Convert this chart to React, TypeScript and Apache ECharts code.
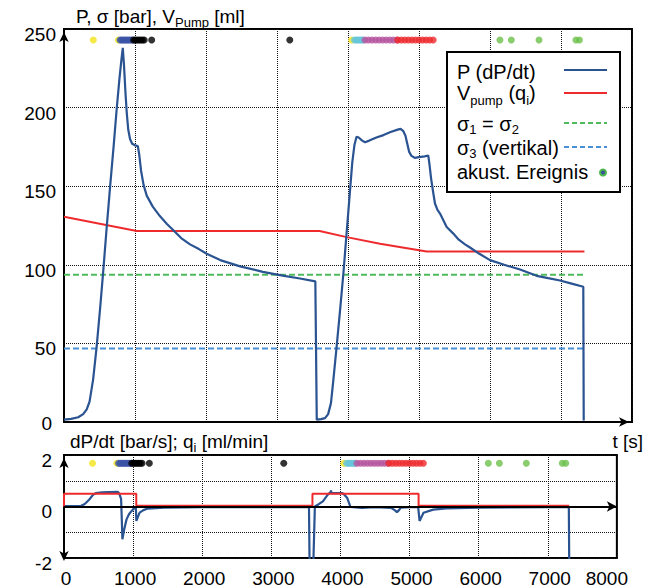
import React, { useEffect, useRef } from 'react';
import * as echarts from 'echarts';

// ---------- DATA ----------
// time axis ticks [s]
const timeMin = 0;
const timeMax = 8000;
const timeStep = 1000;

// P [bar] over t [s]
const pressure: [number, number][] = [
  [0, 1.5], [100, 2], [200, 3], [270, 5], [320, 8], [360, 13], [410, 27], [460, 48], [510, 73],
  [550, 94.5], [600, 123], [650, 150], [700, 176], [740, 198], [780, 218], [810, 231], [828, 238],
  [845, 227], [865, 210], [885, 196], [905, 186], [930, 180], [960, 177], [1000, 176], [1040, 175.5],
  [1060, 170], [1085, 160], [1120, 151], [1165, 144], [1250, 137], [1350, 131], [1450, 126], [1540, 122],
  [1650, 117], [1775, 113], [1900, 110], [2010, 107], [2200, 103], [2480, 99], [2800, 95.5], [3100, 93],
  [3324, 91.3], [3540, 89.5], [3560, 1.5], [3620, 1.8], [3676, 2.5], [3720, 5], [3760, 12], [3790, 25],
  [3840, 48], [3890, 72], [3934, 94], [3980, 120], [4028, 147], [4060, 165], [4090, 176], [4120, 181.5],
  [4150, 181], [4200, 179], [4240, 178], [4300, 179], [4400, 181], [4500, 182.5], [4600, 184.5],
  [4700, 186], [4740, 186.5], [4780, 185], [4810, 182], [4835, 177], [4860, 172], [4890, 169.5],
  [4940, 168], [5000, 168.5], [5080, 169], [5131, 169.5], [5150, 163], [5170, 155], [5200, 146],
  [5225, 139], [5260, 135], [5296, 132.6], [5390, 124], [5480, 120], [5560, 116], [5648, 113],
  [5718, 111], [5850, 107], [6000, 103], [6200, 100], [6423, 97], [6657, 93], [6820, 91.5],
  [6986, 90], [7150, 88], [7314, 86], [7320, 1],
];

// V_pump [ml]
const pumpVolume: [number, number][] = [
  [0, 130.5], [1025, 121.5], [3600, 121.5], [3982, 117.6], [4450, 113.4], [5108, 108.5], [7330, 108.5],
];

// principal stresses [bar]
const sigma12Value = 93.7;
const sigma3Value = 46.8;
const sigmaStart = 0;
const sigmaEnd = 7320;

// dP/dt [bar/s]
const pressureRate: [number, number][] = [
  [0, 0.02], [250, 0.03], [300, 0.1], [366, 0.27], [420, 0.45], [460, 0.52], [550, 0.55], [650, 0.56],
  [780, 0.57], [800, 0.5], [826, 0.3], [835, -0.4], [845, -1.27], [870, -0.9], [905, -0.5], [940, -0.3],
  [976, -0.18], [1010, -0.08], [1040, -0.05], [1047, -0.56], [1094, -0.24], [1150, -0.14], [1211, -0.08],
  [1446, -0.04], [2000, -0.03], [3000, -0.03], [3545, -0.03], [3560, -4], [3590, -4], [3630, 0],
  [3680, 0.08], [3746, 0.2], [3817, 0.46], [3855, 0.55], [3864, 0.62], [3870, 0.52], [3887, 0.52],
  [4028, 0.52], [4060, 0.45], [4099, 0.33], [4146, -0.02], [4310, -0.05], [4500, -0.03], [4732, -0.05],
  [4790, -0.15], [4817, -0.22], [4845, -0.15], [4873, -0.04], [5000, -0.03], [5125, -0.02], [5145, -0.56],
  [5202, -0.24], [5343, -0.12], [5531, -0.07], [6000, -0.04], [7000, -0.03], [7305, -0.03], [7315, -4],
];

// q_i [ml/min]
const flowRate: [number, number][] = [
  [0, 0], [0, 0.5], [1046, 0.5], [1046, 0.03], [3595, 0.03], [3595, 0.5], [5131, 0.5], [5131, 0.03], [7310, 0.03],
];

// acoustic events [s], grouped by colour class
const eventsYellow = [413, 765, 4050];
const eventsBlue = [790, 812, 835, 858, 880, 903, 925, 948, 970];
const eventsBlack = [980, 1005, 1030, 1055, 1080, 1105, 1130, 1235, 3180];
const eventsCyan = [4090, 4115, 4140, 4165, 4190, 4210];
const eventsMagenta = [4240, 4290, 4340, 4390, 4440, 4490, 4540, 4590, 4640, 4690];
const eventsRed = [4700, 4750, 4800, 4850, 4900, 4950, 5000, 5050, 5100, 5150, 5200];
const eventsGreen = [6140, 6300, 6690, 7210, 7260];
const eventLevelTop = 243;
const eventLevelBottom = 1.68;

// axis ranges
const pMin = 0, pMax = 250, pStep = 50;
const rMin = -2, rMax = 2, rStep = 1;

// ---------- STYLE ----------
const FONT = '"Liberation Sans", Arial, Helvetica, sans-serif';
const C_P = '#2a5391';
const C_V = '#ef2a2c';
const C_S12 = '#4fba5c';
const C_S3 = '#4a90d9';
const eventColors = ['#f3e41a', '#3b54a6', '#000000', '#66c6da', '#b5549e', '#ee2a2e', '#6cc04a'];
const eventLists = [eventsYellow, eventsBlue, eventsBlack, eventsCyan, eventsMagenta, eventsRed, eventsGreen];

const gridLine = { show: true, lineStyle: { color: '#111', width: 1, type: [1, 1] as number[] } };
const axisBlack = { color: '#000', width: 2 };

export default function App() {
  const ref = useRef<HTMLDivElement>(null);
  useEffect(() => {
    if (!ref.current) return;
    const chart = echarts.init(ref.current, undefined, { renderer: 'svg' });

    const eventSeries: any[] = [];
    eventLists.forEach((list, i) => {
      eventSeries.push({
        type: 'scatter', xAxisIndex: 0, yAxisIndex: 0, symbol: 'circle', symbolSize: 7,
        itemStyle: { color: eventColors[i] }, data: list.map((t) => [t, eventLevelTop]), z: 5,
      });
      eventSeries.push({
        type: 'scatter', xAxisIndex: 1, yAxisIndex: 1, symbol: 'circle', symbolSize: 7,
        itemStyle: { color: eventColors[i] }, data: list.map((t) => [t, eventLevelBottom]), z: 5,
      });
    });

    const labelBase = { color: '#000', fontSize: 19, fontFamily: FONT };
    const gText = { fill: '#000', fontSize: 19, fontFamily: FONT };
    const sub = { fontSize: 13, fontFamily: FONT, fill: '#000', verticalAlign: 'bottom', lineHeight: 13 };

    const option: any = {
      animation: false,
      backgroundColor: '#fff',
      textStyle: { fontFamily: FONT },
      grid: [
        { left: 64, top: 29, width: 568, height: 393, show: true, borderColor: '#000', borderWidth: 2, backgroundColor: 'transparent' },
        { left: 64, top: 455, width: 568, height: 105, show: true, borderColor: '#000', borderWidth: 2, backgroundColor: 'transparent' },
      ],
      xAxis: [
        {
          gridIndex: 0, type: 'value', min: timeMin, max: timeMax, interval: timeStep,
          axisLine: { show: true, onZero: false, lineStyle: axisBlack, symbol: ['none', 'arrow'], symbolSize: [7, 10], symbolOffset: [0, -3] },
          axisTick: { show: false }, axisLabel: { show: false }, splitLine: gridLine,
        },
        {
          gridIndex: 1, type: 'value', min: timeMin, max: timeMax, interval: timeStep,
          axisLine: { show: false, onZero: false },
          axisTick: { show: false },
          splitLine: gridLine,
          axisLabel: {
            ...labelBase, margin: 10, lineHeight: 20,
            formatter: (v: number) => (v === timeMax ? `{e|${v}}` : `{n|${v}}`),
            rich: {
              n: { ...labelBase, lineHeight: 20, padding: [0, 0, 0, 4] },
              e: { ...labelBase, lineHeight: 20, padding: [0, 20, 0, 0] },
            },
          },
        },
      ],
      yAxis: [
        {
          gridIndex: 0, type: 'value', min: pMin, max: pMax, interval: pStep,
          axisLine: { show: true, onZero: false, lineStyle: axisBlack, symbol: ['none', 'arrow'], symbolSize: [7, 10], symbolOffset: [0, -3] },
          axisTick: { show: false }, splitLine: gridLine,
          axisLabel: {
            ...labelBase, margin: 8,
            formatter: (v: number) => (v === 0 ? `{z|${v}}` : `{n|${v}}`),
            rich: {
              n: { ...labelBase, padding: [11, 0, 0, 0] },
              z: { ...labelBase, padding: [2, 4, 0, 0] },
            },
          },
        },
        {
          gridIndex: 1, type: 'value', min: rMin, max: rMax, interval: rStep,
          axisLine: { show: true, onZero: false, lineStyle: axisBlack, symbol: ['arrow', 'arrow'], symbolSize: [7, 10], symbolOffset: [-3, -3] },
          axisTick: { show: false }, splitLine: gridLine,
          axisLabel: {
            ...labelBase, margin: 12,
            formatter: (v: number) => (v % 2 === 0 ? `{n|${v}}` : ''),
            rich: { n: { ...labelBase, padding: [10, 0, 0, 0] } },
          },
        },
      ],
      series: [
        {
          name: 'σ1 = σ2', type: 'line', xAxisIndex: 0, yAxisIndex: 0, symbol: 'none',
          lineStyle: { color: C_S12, width: 2, type: [6, 3] },
          data: [[sigmaStart, sigma12Value], [sigmaEnd, sigma12Value]],
        },
        {
          name: 'σ3 (vertikal)', type: 'line', xAxisIndex: 0, yAxisIndex: 0, symbol: 'none',
          lineStyle: { color: C_S3, width: 2, type: [6, 3] },
          data: [[sigmaStart, sigma3Value], [sigmaEnd, sigma3Value]],
        },
        {
          name: 'V_pump', type: 'line', xAxisIndex: 0, yAxisIndex: 0, symbol: 'none',
          lineStyle: { color: C_V, width: 2 }, data: pumpVolume,
        },
        {
          name: 'P', type: 'line', xAxisIndex: 0, yAxisIndex: 0, symbol: 'none',
          lineStyle: { color: C_P, width: 2.2 }, data: pressure,
        },
        {
          name: 'dP/dt', type: 'line', xAxisIndex: 1, yAxisIndex: 1, symbol: 'none',
          lineStyle: { color: C_P, width: 2.2 }, data: pressureRate,
          markLine: {
            silent: true, symbol: ['none', 'arrow'], symbolSize: [8, 10],
            label: { show: false },
            lineStyle: { color: '#000', width: 2, type: 'solid' },
            data: [{ yAxis: 0 }],
          },
        },
        {
          name: 'q_i', type: 'line', xAxisIndex: 1, yAxisIndex: 1, symbol: 'none',
          lineStyle: { color: C_V, width: 2 }, data: flowRate, z: 3,
        },
        ...eventSeries,
      ],
      graphic: [
        {
          type: 'text', x: 76, y: 16, z: 10,
          style: {
            text: 'P, σ [bar], V{sub|Pump} [ml]', ...gText, lineHeight: 25, align: 'left', verticalAlign: 'middle',
            rich: { sub },
          },
        },
        {
          type: 'text', x: 70, y: 441, z: 10,
          style: {
            text: 'dP/dt [bar/s]; q{sub|i} [ml/min]', ...gText, lineHeight: 25, align: 'left', verticalAlign: 'middle',
            rich: { sub },
          },
        },
        {
          type: 'text', x: 643, y: 441, z: 10,
          style: { text: 't [s]', ...gText, align: 'right', verticalAlign: 'middle' },
        },
        // legend
        {
          type: 'rect', z: 20,
          shape: { x: 447, y: 52, width: 173, height: 140 },
          style: { fill: '#fff', stroke: '#000', lineWidth: 2 },
        },
        { type: 'text', x: 457, y: 72, z: 21, style: { text: 'P (dP/dt)', ...gText, fontSize: 20, align: 'left', verticalAlign: 'middle' } },
        {
          type: 'text', x: 457, y: 93, z: 21,
          style: {
            text: 'V{sub|pump} (q{sub|i})', ...gText, fontSize: 20, lineHeight: 28, align: 'left', verticalAlign: 'middle',
            rich: { sub },
          },
        },
        {
          type: 'text', x: 457, y: 124, z: 21,
          style: {
            text: 'σ{sub|1} = σ{sub|2}', ...gText, fontSize: 20, lineHeight: 24, align: 'left', verticalAlign: 'middle',
            rich: { sub },
          },
        },
        {
          type: 'text', x: 457, y: 148, z: 21,
          style: {
            text: 'σ{sub|3} (vertikal)', ...gText, fontSize: 20, lineHeight: 24, align: 'left', verticalAlign: 'middle',
            rich: { sub },
          },
        },
        { type: 'text', x: 457, y: 172, z: 21, style: { text: 'akust. Ereignis', ...gText, fontSize: 20, align: 'left', verticalAlign: 'middle' } },
        { type: 'line', z: 21, shape: { x1: 564, y1: 70, x2: 607, y2: 70 }, style: { stroke: C_P, lineWidth: 2 } },
        { type: 'line', z: 21, shape: { x1: 564, y1: 93, x2: 607, y2: 93 }, style: { stroke: C_V, lineWidth: 2 } },
        { type: 'line', z: 21, shape: { x1: 564, y1: 123, x2: 607, y2: 123 }, style: { stroke: C_S12, lineWidth: 2, lineDash: [5, 3] } },
        { type: 'line', z: 21, shape: { x1: 564, y1: 147, x2: 607, y2: 147 }, style: { stroke: C_S3, lineWidth: 2, lineDash: [5, 3] } },
        { type: 'circle', z: 21, shape: { cx: 603, cy: 172.5, r: 3 }, style: { fill: '#3a4f9e', stroke: '#4cb84a', lineWidth: 2 } },
      ],
    };

    chart.setOption(option);
    return () => chart.dispose();
  }, []);

  return <div ref={ref} style={{ position: 'fixed', left: 0, top: 0, width: 651, height: 588, background: '#fff' }} />;
}
